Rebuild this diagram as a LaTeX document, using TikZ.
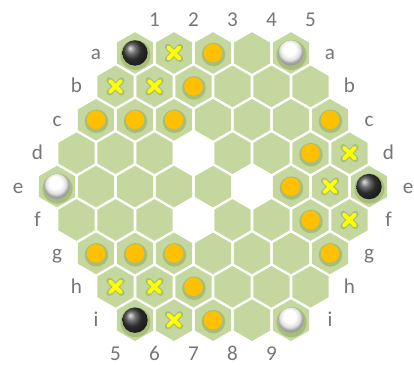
\documentclass[tikz,border=0pt]{standalone}
\usepackage{fontspec}
\setmainfont{Carlito}
\usetikzlibrary{calc}

\definecolor{cellgreen}{RGB}{196,215,158}
\definecolor{glowgreen}{RGB}{135,158,78}
\definecolor{labelgray}{RGB}{118,118,118}
\definecolor{discorange}{RGB}{255,192,0}
\definecolor{crossyellow}{RGB}{255,255,0}

% white ball: light top, grey rim
\pgfdeclareradialshading{whiteball}{\pgfpoint{-4bp}{10bp}}{%
  color(0bp)=(white); color(12bp)=(white); color(20bp)=(black!12);
  color(25bp)=(black!38); color(50bp)=(black!38)}

\tikzset{
  cell/.style={fill=cellgreen},
  coordlabel/.style={text=labelgray, font=\fontsize{15}{15}\selectfont, anchor=base, inner sep=0pt},
  halo/.style={fill=glowgreen, opacity=0.45},
  disc/.style={fill=discorange},
  crosshalo/.style={draw=glowgreen, opacity=0.45, line width=4.4pt, line cap=round},
  crossline/.style={draw=crossyellow, line width=2.8pt, line cap=round}
}

% one board cell, pointy top
\newcommand{\hexcell}[1]{%
  \fill[cell] (#1) +(90:20.8) -- +(150:20.8) -- +(210:20.8) -- +(270:20.8) -- +(330:20.8) -- +(30:20.8) -- cycle;}
% orange disc
\newcommand{\discpiece}[1]{%
  \fill[halo] ($(#1)+(0.5,1.5)$) circle (11.8);
  \fill[disc] (#1) circle (9.3);}
% yellow cross
\newcommand{\crosspiece}[1]{%
  \begin{scope}[shift={(#1)}]
    \draw[crosshalo] (-6,-6) -- (6,6) (-6,6) -- (6,-6);
    \draw[crossline] (-5.5,-5.5) -- (5.5,5.5) (-5.5,5.5) -- (5.5,-5.5);
  \end{scope}}
% black ball
\newcommand{\blackball}[1]{%
  \fill[halo] ($(#1)+(0.5,2)$) circle (15);
  \shade[ball color=black!75] (#1) circle (12.7);}
% white ball
\newcommand{\whiteball}[1]{%
  \fill[halo] ($(#1)+(0.5,2)$) circle (15);
  \shade[shading=whiteball] (#1) circle (12.7);}

\begin{document}
\begin{tikzpicture}[x=0.025cm, y=-0.025cm]
    \useasboundingbox (0,0) rectangle (414,365);

    % Board cells and row letters
    \foreach \row/\r in {a/0,b/1,c/2,d/3,e/4,f/5,g/6,h/7,i/8} {
        \pgfmathtruncatemacro\off{abs(\r-4)}
        \pgfmathtruncatemacro\n{9-\off}
        \foreach \k in {1,...,\n} {
            \coordinate (\row\k) at ({57+19.5*\off+39*(\k-1)}, {53+33.4*\r});
            % three empty holes in the middle
            \pgfmathtruncatemacro\hole{(\r==3 && \k==4) || (\r==4 && \k==6) || (\r==5 && \k==4)}
            \ifnum\hole=0 \hexcell{\row\k} \fi
        }
        \node[coordlabel] (L\row) at ({57+19.5*\off-39}, {59.5+33.4*\r}) {\row};
        \node[coordlabel] (R\row) at ({57+19.5*\off+39*\n}, {59.5+33.4*\r}) {\row};
    }

    % Column numbers
    \foreach \k in {1,...,5}
        \node[coordlabel] (top\k) at ({154.5+39*(\k-1)}, 27) {\k};
    \foreach \k in {5,...,9}
        \node[coordlabel] (bot\k) at ({115.5+39*(\k-5)}, 361) {\k};

    % Orange discs
    \foreach \c in {a3,b3,c1,c2,c3,c7,d7,e7,f7,g1,g2,g3,g7,h3,i3} {
        \discpiece{\c}
    }

    % Yellow crosses
    \foreach \c in {a2,b1,b2,d8,e8,f8,h1,h2,i2} {
        \crosspiece{\c}
    }

    % Balls
    \foreach \c in {a1,e9,i1} {
        \blackball{\c}
    }
    \foreach \c in {a5,e1,i5} {
        \whiteball{\c}
    }
\end{tikzpicture}
\end{document}
